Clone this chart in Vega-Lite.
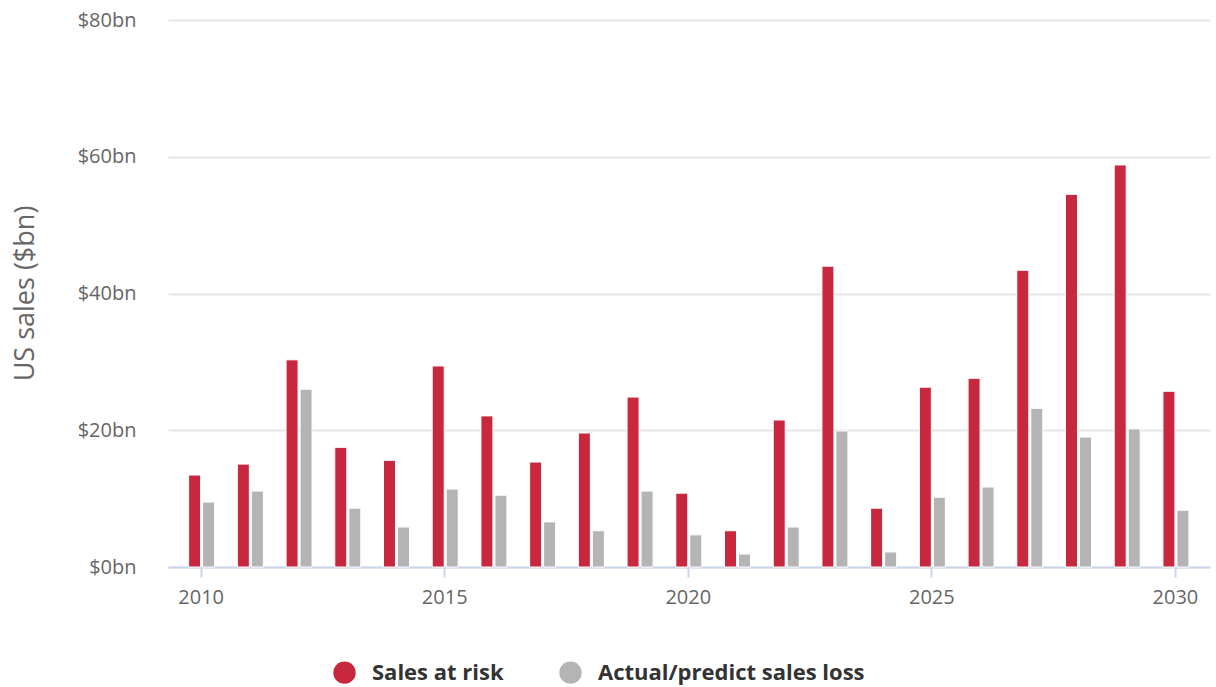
{
  "$schema": "https://vega.github.io/schema/vega-lite/v6.json",
  "width": 1042,
  "height": 547,
  "autosize": {"type": "none"},
  "padding": {"left": 168, "top": 20, "right": 6, "bottom": 120},
  "background": "white",
  "config": {
    "font": "Open Sans",
    "view": {"stroke": null}
  },
  "data": {
    "values": [
      {"year": 2010, "series": "Sales at risk", "value": 13.45},
      {"year": 2011, "series": "Sales at risk", "value": 15.05},
      {"year": 2012, "series": "Sales at risk", "value": 30.3},
      {"year": 2013, "series": "Sales at risk", "value": 17.5},
      {"year": 2014, "series": "Sales at risk", "value": 15.6},
      {"year": 2015, "series": "Sales at risk", "value": 29.4},
      {"year": 2016, "series": "Sales at risk", "value": 22.1},
      {"year": 2017, "series": "Sales at risk", "value": 15.35},
      {"year": 2018, "series": "Sales at risk", "value": 19.6},
      {"year": 2019, "series": "Sales at risk", "value": 24.85},
      {"year": 2020, "series": "Sales at risk", "value": 10.8},
      {"year": 2021, "series": "Sales at risk", "value": 5.3},
      {"year": 2022, "series": "Sales at risk", "value": 21.5},
      {"year": 2023, "series": "Sales at risk", "value": 44.0},
      {"year": 2024, "series": "Sales at risk", "value": 8.6},
      {"year": 2025, "series": "Sales at risk", "value": 26.3},
      {"year": 2026, "series": "Sales at risk", "value": 27.6},
      {"year": 2027, "series": "Sales at risk", "value": 43.4},
      {"year": 2028, "series": "Sales at risk", "value": 54.5},
      {"year": 2029, "series": "Sales at risk", "value": 58.8},
      {"year": 2030, "series": "Sales at risk", "value": 25.7},
      {"year": 2010, "series": "Actual/predict sales loss", "value": 9.5},
      {"year": 2011, "series": "Actual/predict sales loss", "value": 11.1},
      {"year": 2012, "series": "Actual/predict sales loss", "value": 26.0},
      {"year": 2013, "series": "Actual/predict sales loss", "value": 8.6},
      {"year": 2014, "series": "Actual/predict sales loss", "value": 5.85},
      {"year": 2015, "series": "Actual/predict sales loss", "value": 11.4},
      {"year": 2016, "series": "Actual/predict sales loss", "value": 10.5},
      {"year": 2017, "series": "Actual/predict sales loss", "value": 6.6},
      {"year": 2018, "series": "Actual/predict sales loss", "value": 5.3},
      {"year": 2019, "series": "Actual/predict sales loss", "value": 11.1},
      {"year": 2020, "series": "Actual/predict sales loss", "value": 4.7},
      {"year": 2021, "series": "Actual/predict sales loss", "value": 1.9},
      {"year": 2022, "series": "Actual/predict sales loss", "value": 5.85},
      {"year": 2023, "series": "Actual/predict sales loss", "value": 19.9},
      {"year": 2024, "series": "Actual/predict sales loss", "value": 2.2},
      {"year": 2025, "series": "Actual/predict sales loss", "value": 10.2},
      {"year": 2026, "series": "Actual/predict sales loss", "value": 11.7},
      {"year": 2027, "series": "Actual/predict sales loss", "value": 23.2},
      {"year": 2028, "series": "Actual/predict sales loss", "value": 19.0},
      {"year": 2029, "series": "Actual/predict sales loss", "value": 20.2},
      {"year": 2030, "series": "Actual/predict sales loss", "value": 8.3}
    ]
  },
  "encoding": {
    "x": {
      "field": "year",
      "type": "quantitative",
      "scale": {"domain": [2009.33, 2030.72], "nice": false, "zero": false, "padding": 0},
      "axis": {
        "title": null,
        "values": [2010, 2015, 2020, 2025, 2030],
        "format": "d",
        "grid": false,
        "domainColor": "#ccd6eb",
        "domainWidth": 2,
        "tickColor": "#ccd6eb",
        "tickWidth": 2,
        "tickSize": 10,
        "labelFontSize": 20,
        "labelColor": "#666666",
        "labelPadding": 10,
        "labelFlush": false
      }
    },
    "y": {
      "field": "value",
      "type": "quantitative",
      "scale": {"domain": [0, 80], "nice": false},
      "axis": {
        "title": "US sales ($bn)",
        "values": [0, 20, 40, 60, 80],
        "labelExpr": "'$' + datum.value + 'bn'",
        "domain": false,
        "ticks": false,
        "gridColor": "#e6e6e6",
        "gridWidth": 2,
        "labelFontSize": 20,
        "labelColor": "#666666",
        "labelPadding": 32,
        "titleFontSize": 27,
        "titleFontWeight": "normal",
        "titleColor": "#666666",
        "titleAngle": -90,
        "titleX": -143,
        "titleY": 273,
        "titleAlign": "center",
        "titleBaseline": "middle"
      }
    },
    "color": {
      "field": "series",
      "type": "nominal",
      "scale": {
        "domain": ["Sales at risk", "Actual/predict sales loss"],
        "range": ["#c8283e", "#b4b4b4"]
      },
      "legend": {
        "title": null,
        "orient": "none",
        "direction": "horizontal",
        "legendX": 165,
        "legendY": 641,
        "symbolType": "circle",
        "symbolSize": 500,
        "symbolStrokeWidth": 0,
        "symbolOpacity": 1,
        "labelFontSize": 22,
        "labelFontWeight": "bold",
        "labelColor": "#333333",
        "labelOffset": 16,
        "labelLimit": 500,
        "columnPadding": 55
      }
    }
  },
  "layer": [
    {
      "transform": [{"filter": "datum.series === 'Sales at risk'"}],
      "mark": {"type": "bar", "width": 12, "xOffset": -6, "stroke": "white", "strokeWidth": 1}
    },
    {
      "transform": [{"filter": "datum.series === 'Actual/predict sales loss'"}],
      "mark": {"type": "bar", "width": 12, "xOffset": 8, "stroke": "white", "strokeWidth": 1}
    }
  ]
}
